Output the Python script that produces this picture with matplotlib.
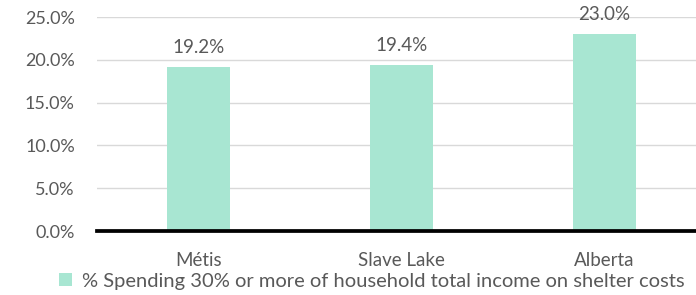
import matplotlib.pyplot as plt
import numpy as np

categories = ["Métis", "Slave Lake", "Alberta"]
values = [19.2, 19.4, 23.0]
series_name = "% Spending 30% or more of household total income on shelter costs"
yticks = [0, 5, 10, 15, 20, 25]

plt.rcParams['font.family'] = ['Lato', 'DejaVu Sans']
text_color = '#595959'
bar_color = '#A8E6D2'

W, H = 696, 295
fig = plt.figure(figsize=(W / 100, H / 100), dpi=100)
ax = fig.add_axes([97 / W, (H - 231) / H, 609 / W, 214 / H])

x = np.arange(len(categories))
bars = ax.bar(x, values, width=0.315, color=bar_color, zorder=2, label=series_name)

for xi, v in zip(x, values):
    ax.annotate(f"{v:.1f}%", (xi, v), xytext=(0, 8), textcoords='offset points',
                ha='center', va='bottom', fontsize=13.5, color=text_color)

ax.set_xlim(-0.5, 2.5)
ax.set_ylim(0, 25)
ax.set_yticks(yticks)
ax.set_yticklabels([f"{t:.1f}%" for t in yticks], fontsize=13, color=text_color)
ax.set_xticks(x)
ax.set_xticklabels(categories, fontsize=13.5, color=text_color)
ax.tick_params(axis='both', length=0)
ax.tick_params(axis='y', pad=16)
ax.tick_params(axis='x', pad=15)
ax.yaxis.grid(True, color='#D9D9D9', linewidth=1, zorder=0)
for s in ['top', 'right', 'left']:
    ax.spines[s].set_visible(False)
ax.spines['bottom'].set_color('black')
ax.spines['bottom'].set_linewidth(2.7)
ax.spines['bottom'].set_zorder(3)

fig.legend(handles=[bars], labels=[series_name], loc='center', bbox_to_anchor=(372 / W, (H - 281) / H),
           frameon=False, fontsize=14.5, handlelength=0.65, handleheight=0.65, handletextpad=0.5,
           labelcolor=text_color, borderpad=0)

fig.savefig("out.png", dpi=100)
